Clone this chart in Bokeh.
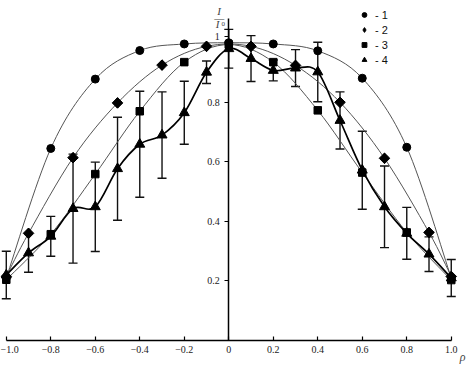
import numpy as np
from bokeh.plotting import figure
from bokeh.models import (FixedTicker, Whisker, ColumnDataSource, Label, TeeHead,
                          Legend, LegendItem, Range1d)
from bokeh.embed import file_html
from bokeh.resources import INLINE

# ---------------- data ----------------
x1 = [-1.0, -0.8, -0.6, -0.4, -0.2, 0.0, 0.2, 0.4, 0.6, 0.8, 1.0]
y1 = [0.21, 0.645, 0.878, 0.974, 0.996, 1.0, 0.996, 0.973, 0.881, 0.649, 0.21]

x2 = [-1.0, -0.9, -0.7, -0.5, -0.3, -0.1, 0.1, 0.3, 0.5, 0.7, 0.9, 1.0]
y2 = [0.215, 0.36, 0.614, 0.798, 0.925, 0.988, 0.988, 0.924, 0.800, 0.612, 0.363, 0.215]

x3 = [-1.0, -0.8, -0.6, -0.4, -0.2, 0.0, 0.2, 0.4, 0.6, 0.8, 1.0]
y3 = [0.204, 0.357, 0.559, 0.770, 0.935, 0.994, 0.935, 0.773, 0.564, 0.363, 0.203]

x4 = [-1.0, -0.9, -0.8, -0.7, -0.6, -0.5, -0.4, -0.3, -0.2, -0.1, 0.0,
      0.1, 0.2, 0.3, 0.4, 0.5, 0.6, 0.7, 0.8, 0.9, 1.0]
y4 = [0.22, 0.294, 0.35, 0.443, 0.449, 0.577, 0.659, 0.69, 0.765, 0.901, 0.98,
      0.947, 0.907, 0.915, 0.902, 0.739, 0.572, 0.449, 0.36, 0.29, 0.21]
e4 = [0.08, 0.065, 0.067, 0.183, 0.15, 0.173, 0.178, 0.145, 0.106, 0.038, 0.065,
      0.077, 0.035, 0.062, 0.10, 0.096, 0.131, 0.137, 0.087, 0.058, 0.062]

series_labels = ["- 1", "- 2", "- 3", "- 4"]

x_ticks = [-1.0, -0.8, -0.6, -0.4, -0.2, 0.0, 0.2, 0.4, 0.6, 0.8, 1.0]
x_tick_labels = ["\u22121.0", "\u22120.8", "\u22120.6", "\u22120.4", "\u22120.2", "0",
                 "0.2", "0.4", "0.6", "0.8", "1.0"]
y_ticks = [0.2, 0.4, 0.6, 0.8, 1.02]
y_tick_labels = ["0.2", "0.4", "0.6", "0.8", "1"]


def bezier_source(xs, ys):
    xs = np.asarray(xs, float)
    ys = np.asarray(ys, float)
    n = len(xs)
    px = np.concatenate([[xs[0]], xs, [xs[-1]]])
    py = np.concatenate([[ys[0]], ys, [ys[-1]]])
    return ColumnDataSource(dict(
        x0=px[1:n], y0=py[1:n],
        x1=px[2:n + 1], y1=py[2:n + 1],
        cx0=px[1:n] + (px[2:n + 1] - px[0:n - 1]) / 6.0,
        cy0=py[1:n] + (py[2:n + 1] - py[0:n - 1]) / 6.0,
        cx1=px[2:n + 1] - (px[3:n + 2] - px[1:n]) / 6.0,
        cy1=py[2:n + 1] - (py[3:n + 2] - py[1:n]) / 6.0,
    ))


SERIF = "Liberation Serif"

p = figure(width=467, height=367, output_backend="svg", toolbar_location=None,
           x_range=Range1d(-1.026, 1.073), y_range=Range1d(-0.0907, 1.142),
           min_border=0)
p.outline_line_color = None
p.grid.visible = False
p.background_fill_color = "white"

# thin smooth curves (series 1-3)
for xs, ys in [(x1, y1), (x2, y2), (x3, y3)]:
    p.bezier(x0="x0", y0="y0", x1="x1", y1="y1", cx0="cx0", cy0="cy0",
             cx1="cx1", cy1="cy1", source=bezier_source(xs, ys),
             line_color="#555555", line_width=1)

# thick curve (series 4)
p.bezier(x0="x0", y0="y0", x1="x1", y1="y1", cx0="cx0", cy0="cy0",
         cx1="cx1", cy1="cy1", source=bezier_source(x4, y4),
         line_color="black", line_width=1.7)

# error bars on series 4
src4 = ColumnDataSource(dict(x=x4, y=y4,
                             upper=[a + b for a, b in zip(y4, e4)],
                             lower=[a - b for a, b in zip(y4, e4)]))
wh = Whisker(source=src4, base="x", upper="upper", lower="lower", dimension="height",
             line_color="#111111", line_width=1.4,
             upper_head=TeeHead(size=9, line_color="#111111", line_width=1.4),
             lower_head=TeeHead(size=9, line_color="#111111", line_width=1.4))
p.add_layout(wh)

r1 = p.scatter(x1, y1, marker="circle", size=8, fill_color="black", line_color="black")
# diamond marks (drawn underneath the rotated squares; they give the legend its diamond key)
r2_key = p.scatter(x2, y2, marker="diamond", size=10, fill_color="black", line_color="black")
r2 = p.scatter(x2, y2, marker="square", angle=np.pi / 4, size=7.5,
               fill_color="black", line_color="black")
r3 = p.scatter(x3, y3, marker="square", size=7.5, fill_color="black", line_color="black")
r4 = p.scatter("x", "y", source=src4, marker="triangle", size=10,
               fill_color="black", line_color="black")

legend = Legend(items=[LegendItem(label=series_labels[i], renderers=[r])
                       for i, r in enumerate([r1, r2_key, r3, r4])],
                location=(358, 301), padding=0, margin=0, spacing=2,
                glyph_width=12, glyph_height=13, label_height=13, label_standoff=5,
                border_line_color=None, background_fill_alpha=0,
                label_text_font="Liberation Sans", label_text_font_size="11px",
                label_text_color="#111111")
p.add_layout(legend)

# axes
xa = p.xaxis[0]
xa.fixed_location = 0
xa.bounds = (-1.0, 1.0)
xa.ticker = FixedTicker(ticks=x_ticks)
xa.major_label_overrides = {t: l for t, l in zip(x_ticks, x_tick_labels)}
xa.major_tick_in = 4
xa.major_tick_out = 0
xa.minor_tick_line_color = None
xa.axis_line_width = 1.5
xa.major_tick_line_width = 1.2
xa.major_label_standoff = 6
xa.major_label_text_font = SERIF
xa.major_label_text_font_size = "10px"
xa.major_label_text_color = "#222222"

ya = p.yaxis[0]
ya.fixed_location = 0
ya.bounds = (0.0, 1.08)
ya.ticker = FixedTicker(ticks=y_ticks)
ya.major_label_overrides = {t: l for t, l in zip(y_ticks, y_tick_labels)}
ya.major_tick_in = 0
ya.major_tick_out = 4
ya.minor_tick_line_color = None
ya.axis_line_width = 1.5
ya.major_tick_line_width = 1.2
ya.major_label_standoff = 5
ya.major_label_text_font = SERIF
ya.major_label_text_font_size = "10px"
ya.major_label_text_color = "#222222"

# axis titles: I / I0 and rho
p.add_layout(Label(x=-0.043, y=1.106, text="I", text_font=SERIF, text_font_style="italic",
                   text_font_size="11px", text_align="center", text_baseline="alphabetic"))
p.add_layout(Label(x=-0.043, y=1.082, text="\u2014", text_font=SERIF,
                   text_font_size="10px", text_align="center", text_baseline="alphabetic"))
p.add_layout(Label(x=-0.05, y=1.063, text="I", text_font=SERIF, text_font_style="italic",
                   text_font_size="11px", text_align="center", text_baseline="alphabetic"))
p.add_layout(Label(x=-0.033, y=1.063, text="0", text_font=SERIF,
                   text_font_size="7px", text_align="left", text_baseline="alphabetic"))
p.add_layout(Label(x=1.038, y=-0.054, text="\u03c1", text_font=SERIF, text_font_style="italic",
                   text_font_size="12px", text_align="left", text_baseline="alphabetic"))

open("out.html", "w").write(file_html(p, INLINE))
